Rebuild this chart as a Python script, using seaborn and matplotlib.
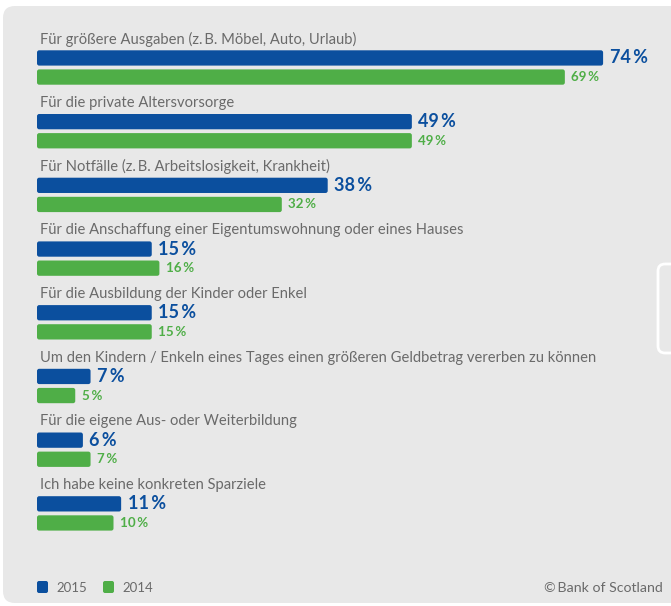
import numpy as np
import pandas as pd
import seaborn as sns
import matplotlib.pyplot as plt
from matplotlib.patches import FancyBboxPatch

categories = [
    "Für größere Ausgaben (z.\u2009B. Möbel, Auto, Urlaub)",
    "Für die private Altersvorsorge",
    "Für Notfälle (z.\u2009B. Arbeitslosigkeit, Krankheit)",
    "Für die Anschaffung einer Eigentumswohnung oder eines Hauses",
    "Für die Ausbildung der Kinder oder Enkel",
    "Um den Kindern / Enkeln eines Tages einen größeren Geldbetrag vererben zu können",
    "Für die eigene Aus- oder Weiterbildung",
    "Ich habe keine konkreten Sparziele",
]
share_2015 = [74, 49, 38, 15, 15, 7, 6, 11]
share_2014 = [69, 49, 32, 16, 15, 5, 7, 10]
years = ["2015", "2014"]
colors = {"2015": "#0b4f9e", "2014": "#4fae47"}

df = pd.DataFrame({
    "category": categories * 2,
    "year": ["2015"] * len(categories) + ["2014"] * len(categories),
    "share": share_2015 + share_2014,
})

W, H, DPI = 671, 606, 100
sns.set_theme(style="white")
plt.rcParams["font.family"] = ["Lato", "DejaVu Sans"]

fig = plt.figure(figsize=(W / DPI, H / DPI), dpi=DPI, facecolor="white")

# background layer in pixel units
bg = fig.add_axes([0, 0, 1, 1])
bg.set_xlim(0, W)
bg.set_ylim(H, 0)
bg.axis("off")
bg.add_patch(FancyBboxPatch((3, 6), W + 30, 597,
                            boxstyle="round,pad=0,rounding_size=12",
                            fc="#e8e8e8", ec="none"))
bg.add_patch(FancyBboxPatch((658, 264), 24, 89,
                            boxstyle="round,pad=0,rounding_size=7",
                            fc="none", ec="white", lw=2))

# legend and source
text_grey = "#6a6a6a"
for x0, yr in [(37, "2015"), (103, "2014")]:
    bg.add_patch(FancyBboxPatch((x0, 581), 11, 12,
                                boxstyle="round,pad=0,rounding_size=2",
                                fc=colors[yr], ec="none"))
    bg.text(x0 + 19, 587.5, yr, va="center", ha="left",
            fontsize=9.5, color=text_grey)
bg.text(663, 587.5, "©\u2009Bank of Scotland", va="center", ha="right",
        fontsize=10.2, color=text_grey)

# bar chart
ax = fig.add_axes([0, 0, 1, 1])
ax.patch.set_alpha(0)
sns.barplot(data=df, x="share", y="category", hue="year", hue_order=years,
            palette=colors, saturation=1, orient="h", width=0.6, gap=0.2,
            legend=False, ax=ax)

px_per = 7.65   # pixels per percentage point
x_start = 37
g0, step = 67.5, 63.7
ax.set_xlim(-x_start / px_per, (W - x_start) / px_per)
ax.set_ylim((H - g0) / step, -g0 / step)
ax.axis("off")

# round the bar corners
r = 2.2 / px_per
aspect = (1 / step) / (1 / px_per)
for container in ax.containers:
    for bar in list(container):
        x, y = bar.get_x(), bar.get_y()
        w, h = bar.get_width(), bar.get_height()
        fb = FancyBboxPatch((x, y), w, h,
                            boxstyle=f"round,pad=0,rounding_size={r}",
                            mutation_aspect=aspect,
                            fc=bar.get_facecolor(), ec="none", zorder=2)
        bar.set_visible(False)
        ax.add_patch(fb)

for i, cat in enumerate(categories):
    ax.text(3 / px_per, i - 0.447, cat, va="center", ha="left",
            fontsize=10.6, color=text_grey)

for container, yr, vals, size in [(ax.containers[0], "2015", share_2015, 13),
                                  (ax.containers[1], "2014", share_2014, 9.6)]:
    for bar, v in zip(container, vals):
        yc = bar.get_y() + bar.get_height() / 2
        ax.text(v + 6.5 / px_per, yc, f"{v}\u2009%", va="center", ha="left",
                fontsize=size, fontweight="bold", color=colors[yr])

fig.savefig("out.png", dpi=DPI, facecolor="white")
